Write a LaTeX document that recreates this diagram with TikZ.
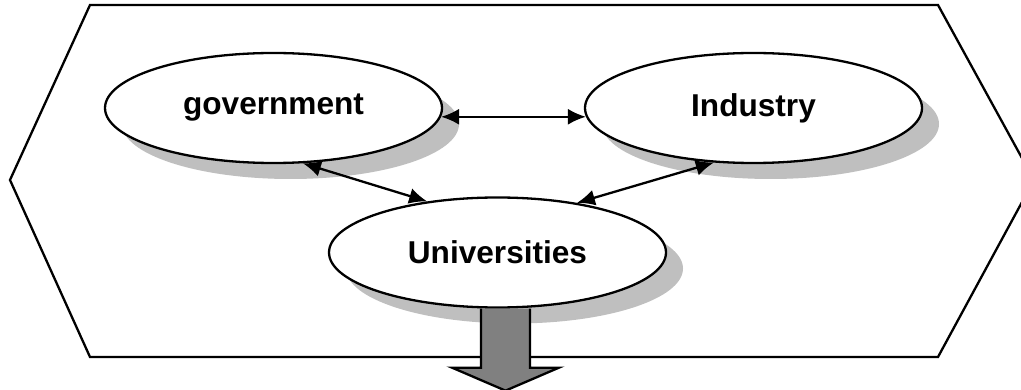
\documentclass[tikz,border=0pt]{standalone}
\usepackage{fontspec}
\setmainfont{Liberation Sans}
\usetikzlibrary{shapes.geometric,shadows,arrows.meta}
\tikzset{
  actor/.style={ellipse, draw, line width=2.3pt, fill=white, minimum width=337pt, minimum height=110pt, inner sep=0pt,
    font=\fontsize{31.6}{36}\selectfont\bfseries,
    drop shadow={shadow xshift=17pt, shadow yshift=-16pt, fill=black!25, opacity=1}},
  link/.style={line width=2.3pt, {Latex[length=18pt,width=16pt]}-{Latex[length=18pt,width=16pt]}},
}

\begin{document}
\begin{tikzpicture}[x=1pt,y=-1pt]%
\clip (0,0) rectangle (1021,390);%
\draw[line width=2.3pt] (90,5) -- (938,5) -- (1034,180) -- (938,357) -- (90,357) -- (10,180) -- cycle;%
\node[actor] (gov) at (273.5,108) {government};%
\node[actor] (ind) at (753.5,108) {Industry};%
\node[actor] (uni) at (497.5,252.5) {Universities};%
\draw[link] (gov.-3) -- (ind.183);%
\draw[link] (gov.-62) -- (uni.144);%
\draw[link] (ind.234) -- (uni.32);%
\draw[line width=2.3pt, fill=gray] ([xshift=-16.5pt]uni.south) -- ++(0,59) -- ++(-29,0) -- ++(53.5,23) -- ++(53.5,-23) -- ++(-29,0) -- ++(0,-59);%
\end{tikzpicture}
\end{document}
